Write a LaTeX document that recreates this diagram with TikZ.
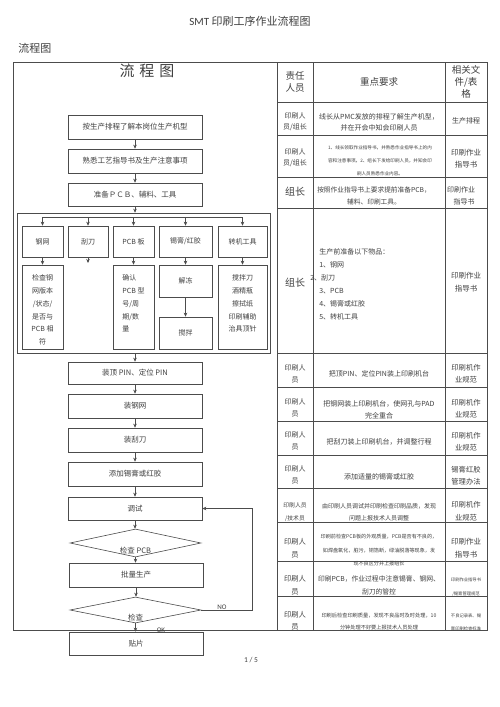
\documentclass[tikz,border=0pt]{standalone}
\usepackage{fontspec}
\setmainfont{Noto Sans CJK SC}
\newfontfamily\latinsans{Carlito}
\usetikzlibrary{arrows.meta,shapes.geometric}
\XeTeXlinebreaklocale "zh"
\XeTeXlinebreakskip=0pt plus 1pt
\newcommand\myfs[2]{\fontsize{#1}{#2}\selectfont}
\definecolor{ln}{gray}{0.3}
\definecolor{tx}{gray}{0.25}
\begin{document}
\begin{tikzpicture}[x=1pt,y=-1pt,
 line width=0.6pt,
 >={Stealth[length=4pt,width=3.5pt]},
 every node/.style={text=tx, inner sep=0pt},
 fbox/.style={draw=ln, minimum width=134pt, minimum height=24pt, font=\myfs{7.5}{9}},
 sbox/.style={draw=ln, minimum height=31pt, font=\myfs{7}{9}},
 dbox/.style={draw=ln, minimum height=84pt},
 dtext/.style={anchor=north, font=\myfs{7}{12.7}},
 dia/.style={diamond, draw=ln, minimum width=131pt},
 cell/.style={align=center, font=\myfs{7}{12}},
 arr/.style={->, draw=ln},
 frame/.style={draw=ln, line width=0.5pt}
]
\useasboundingbox (0,0) rectangle (500,707);
\fill[white] (0,0) rectangle (500,707);

% titles
\node[font=\myfs{11}{13}] (title) at (250,21) {{\latinsans SMT} 印刷工序作业流程图};
\node[font=\myfs{11}{13}, anchor=west] (sub) at (18,48) {流程图};
\node[font=\myfs{15}{17}] (ftitle) at (147,71) {流\,\,程\,\,图};
\node[font=\latinsans\myfs{7.5}{9}] (page) at (251,660) {1 / 5};

% outer frame and table grid
\draw[frame] (13,62) rectangle (277,630);
\draw[frame] (277,62) rectangle (487,630);
\foreach \xx in {313,445} \draw[frame] (\xx,62) -- (\xx,630);
\foreach \yy in {102,135,177,208,353,387,421,455,488,522,561,596} \draw[frame] (277,\yy) -- (487,\yy);

% flow boxes
\node[fbox] (b1) at (135,127) {按生产排程了解本岗位生产机型};
\node[fbox] (b2) at (135,161) {熟悉工艺指导书及生产注意事项};
\node[fbox, minimum height=23pt] (b3) at (135,194.5) {准备ＰＣＢ、辅料、工具};
\node[draw=ln, minimum width=253pt, minimum height=140pt] (grp) at (143.5,283) {};

\coordinate (brL) at (42.5,217);
\coordinate (brR) at (242.5,217);

\node[sbox, minimum width=41pt] (tgw) at (42.5,241.5) {钢网};
\node[sbox, minimum width=40pt] (tgd) at (88,241.5) {刮刀};
\node[sbox, minimum width=41pt] (tpcb) at (133.5,241.5) {PCB 板};
\node[sbox, minimum width=53pt] (tsp) at (185.5,241.5) {锡膏/红胶};
\node[sbox, minimum width=49pt] (tzj) at (242.5,241.5) {转机工具};

\node[dbox, minimum width=41pt] (dgw) at (42.5,307) {};
\node[dtext, align=center] (dgwt) at ([yshift=-10pt]dgw.north) {检查钢\\网版本\\/状态/\\是否与\\PCB 相\\符};
\coordinate (gdend) at (88,263);
\node[dbox, minimum width=41pt] (dpcb) at (133.5,307) {};
\node[dtext, align=left] (dpcbt) at ([yshift=-10pt]dpcb.north) {确认\\PCB 型\\号/周\\期/数\\量};
\node[sbox, minimum width=53pt, minimum height=32pt] (jd) at (185.5,281) {解冻};
\node[sbox, minimum width=53pt, minimum height=32pt] (jb) at (185.5,333) {搅拌};
\node[dbox, minimum width=49pt] (dzj) at (242.5,307) {};
\node[dtext, align=center] (dzjt) at ([yshift=-10pt]dzj.north) {搅拌刀\\酒精瓶\\擦拭纸\\印刷辅助\\治具顶针};

\node[fbox, minimum height=22pt] (pin) at (135,373) {装顶 PIN、定位 PIN};
\node[fbox] (zgw) at (135,406) {装钢网};
\node[fbox] (zgd) at (135,440) {装刮刀};
\node[fbox] (tj) at (135,474) {添加锡膏或红胶};
\node[fbox, minimum height=23pt] (ts) at (135,508.5) {调试};
\node[dia, minimum height=28pt] (d1) at (135.5,543) {};
\node[font=\myfs{7.5}{9}] (d1t) at (135.5,551) {检查 PCB};
\node[fbox] (pl) at (136,575) {批量生产};
\node[dia, minimum height=26pt] (d2) at (135.5,610) {};
\node[font=\myfs{7.5}{9}] (d2t) at (135.5,618) {检查};
\node[fbox, minimum height=23pt] (tp) at (136,643.5) {贴片};
\node[font=\latinsans\myfs{7}{8}] (no) at (222,607) {NO};
\node[font=\latinsans\myfs{7}{8}] (ok) at (161,630) {OK};

% connectors
\draw[arr] (b1) -- (b2);
\draw[arr] (b2) -- (b3);
\draw[arr] (b3.south) -- (b3.south |- grp.north);
\draw[ln] (brL) -- (brR);
\foreach \n in {tgw,tgd,tpcb,tsp,tzj} \draw[arr] (\n.north |- brL) -- (\n.north);
\draw[arr] (tgw) -- (dgw);
\draw[arr] (tgd) -- (gdend);
\draw[arr] (tpcb) -- (dpcb);
\draw[arr] (tsp) -- (jd);
\draw[arr] (jd) -- (jb);
\draw[arr] (tzj) -- (dzj);
\draw[arr] (grp.south -| pin.north) -- (pin.north);
\draw[arr] (pin) -- (zgw);
\draw[arr] (zgw) -- (zgd);
\draw[arr] (zgd) -- (tj);
\draw[arr] (tj) -- (ts);
\draw[arr] (ts.south) -- (ts.south |- d1.north);
\draw[arr] (d1.south) -- (d1.south |- pl.north);
\draw[arr] (pl.south) -- (pl.south |- d2.north);
\draw[arr] (d2.south) -- (d2.south |- tp.north);
\draw[arr] (d2.east) -- ++(51,0) |- (ts.east);

% table header
\node[cell, font=\myfs{9.5}{12}] (h1) at (295,82) {责任\\人员};
\node[cell, font=\myfs{9.5}{12}] (h2) at (379,82) {重点要求};
\node[cell, font=\myfs{9.5}{12}] (h3) at (466,82) {相关文\\件/表\\格};

% row 1
\node[cell, font=\myfs{7}{11}] (r1a) at (295,122) {印刷人\\员/组长};
\node[cell, font=\myfs{7}{11}] (r1b) at (379,122) {线长从PMC发放的排程了解生产机型，\\并在开会中知会印刷人员};
\node[cell] (r1c) at (466,121) {生产排程};
% row 2
\node[cell, font=\myfs{7}{11}] (r2a) at (295,158) {印刷人\\员/组长};
\node[cell, font=\myfs{4.6}{12.8}] (r2b) at (380,161) {1、线长领取作业指导书，并熟悉作业指导书上的内\\容和注意事项。2、组长下发给印刷人员，并知会印\\刷人员熟悉作业内容。};
\node[cell, font=\myfs{7.5}{12.5}] (r2c) at (466,158.5) {印刷作业\\指导书};
% row 3
\node[cell, font=\myfs{10}{12}] (r3a) at (295,192) {组长};
\node[cell, font=\myfs{6.7}{12}] (r3b) at (374,196) {按照作业指导书上要求提前准备PCB，\\辅料、印刷工具。};
\node[cell, font=\myfs{7}{11.5}] (r3c) at (461,196) {印刷作业\\\hspace*{6pt}指导书};
% row 4
\node[cell, font=\myfs{10}{12}] (r4a) at (295,283) {组长};
\node[anchor=north west, align=left, font=\myfs{7}{13}] (r4b) at (319,248.5) {生产前准备以下物品：\\1、钢网\\\hspace*{-9pt}2、刮刀\\3、PCB\\4、锡膏或红胶\\5、转机工具};
\node[cell, font=\myfs{7.5}{12.5}] (r4c) at (466,282) {印刷作业\\指导书};
% rows 5-8
\node[cell] (r5a) at (295,374) {印刷人\\员};
\node[cell] (r5b) at (379,374) {把顶PIN、定位PIN装上印刷机台};
\node[cell, font=\myfs{7.3}{12}] (r5c) at (466,374) {印刷机作\\业规范};
\node[cell] (r6a) at (295,408) {印刷人\\员};
\node[cell] (r6b) at (379,410) {把钢网装上印刷机台，使网孔与PAD\\完全重合};
\node[cell, font=\myfs{7.3}{12}] (r6c) at (466,409) {印刷机作\\业规范};
\node[cell] (r7a) at (295,441) {印刷人\\员};
\node[cell] (r7b) at (379,442) {把刮刀装上印刷机台，并调整行程};
\node[cell, font=\myfs{7.3}{12}] (r7c) at (466,442) {印刷机作\\业规范};
\node[cell] (r8a) at (295,475) {印刷人\\员};
\node[cell] (r8b) at (379,477) {添加适量的锡膏或红胶};
\node[cell, font=\myfs{7.3}{12}] (r8c) at (466,476) {锡膏红胶\\管理办法};
% row 9
\node[cell, font=\myfs{5.8}{13}] (r9a) at (295,512) {印刷人员\\/技术员};
\node[cell, font=\myfs{6}{12.5}] (r9b) at (379,512) {由印刷人员调试并印刷检查印刷品质，发现\\问题上报技术人员调整};
\node[cell, font=\myfs{7.3}{12.5}] (r9c) at (466,511) {印刷机作\\业规范};
% row 10
\node[cell, font=\myfs{7.3}{12.5}] (r10a) at (295,548) {印刷人\\员};
\node[cell, font=\myfs{5.1}{13.5}] (r10b) at (379,550.5) {印刷前检查PCB板的外观质量，PCB是否有不良的，\\如焊盘氧化，脏污，铜箔断，绿油脱落等现象，发\\现不良区分并上报组长};
\node[cell, font=\myfs{7.5}{12.5}] (r10c) at (466,548) {印刷作业\\指导书};
% row 11
\node[cell, font=\myfs{7.3}{12.5}] (r11a) at (295,585) {印刷人\\员};
\node[cell, font=\myfs{6.8}{13}] (r11b) at (379,585.5) {印刷PCB，作业过程中注意锡膏、钢网、\\刮刀的管控};
\node[cell, font=\myfs{4.3}{14}] (r11c) at (466,587) {印刷作业指导书\\/锡膏管理规范};
% row 12
\node[cell, font=\myfs{7.3}{12.5}] (r12a) at (295,620.5) {印刷人\\员};
\node[cell, font=\myfs{5.2}{11.5}] (r12b) at (379,621.5) {印刷后检查印刷质量，发现不良品时及时处理，10\\分钟处理不好要上报技术人员处理};
\node[cell, font=\myfs{4.3}{13}] (r12c) at (466,622.5) {不良记录表、锡\\膏印刷检查标准};
\end{tikzpicture}
\end{document}
